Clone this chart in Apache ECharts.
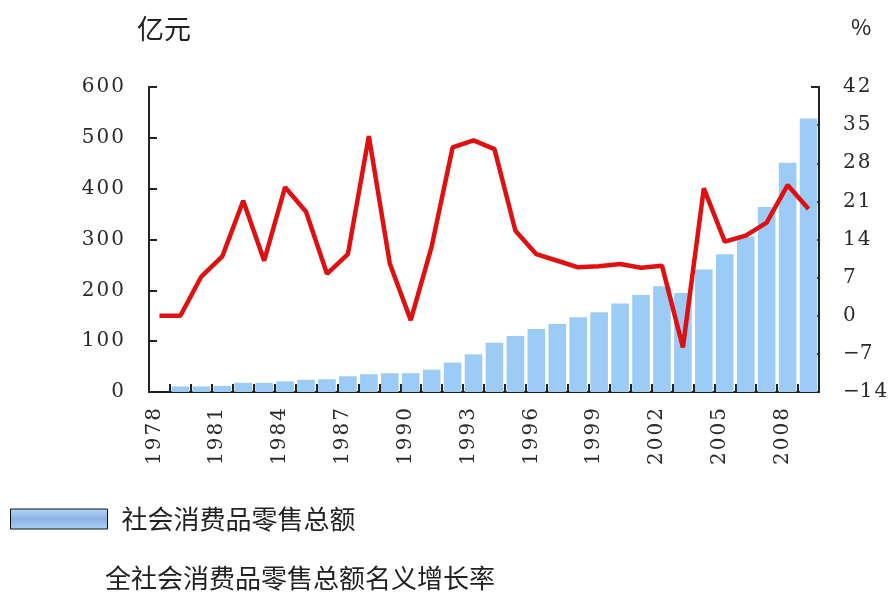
<!DOCTYPE html>
<html>
<head>
<meta charset="utf-8">
<script src="https://cdn.jsdelivr.net/npm/echarts@6/dist/echarts.min.js"></script>
<style>
  html, body { margin: 0; padding: 0; background: #fff; }
  #chart { width: 891px; height: 592px; }
</style>
</head>
<body>
<div id="chart"></div>
<script>
// categories
const years = ['1978', '1979', '1980', '1981', '1982', '1983', '1984', '1985',
  '1986', '1987', '1988', '1989', '1990', '1991', '1992', '1993',
  '1994', '1995', '1996', '1997', '1998', '1999', '2000', '2001',
  '2002', '2003', '2004', '2005', '2006', '2007', '2008', '2009']

// 社会消费品零售总额 (亿元, left axis) - 1978 has no bar in the picture
const retailTotal = [null, 11, 11, 12, 18, 18, 21, 24,
  25, 31, 35, 37, 37, 44, 58, 74,
  97, 110, 124, 134, 147, 157, 174, 191,
  208, 195, 241, 271, 306, 364, 451, 538]

// 名义增长率 (%, right axis)
const growthRate = [0, 0, 7.2, 10.9, 21.1, 10.1, 23.6, 19.1,
  7.7, 11.3, 33.0, 9.6, -0.8, 12.7, 30.9, 32.2,
  30.6, 15.6, 11.3, 10.1, 8.9, 9.1, 9.5, 8.8,
  9.2, -5.8, 23.4, 13.6, 14.7, 17.1, 24.0, 19.6]

const barName = '社会消费品零售总额'
const lineName = '全社会消费品零售总额名义增长率'

const cjk = '"Noto Sans CJK SC", "Noto Sans", sans-serif'
const serif = '"DejaVu Serif", "Liberation Serif", serif'

// wide-set digits like the original (hair spaces between digits)
function spaced(v) {
  const s = String(Math.abs(v)).split('').join('\u200A')
  return v < 0 ? '\u2212' + s : s
}

const tickLabel = { fontFamily: serif, fontSize: 20, color: '#2a2a2a' }

const chart = echarts.init(document.getElementById('chart'), null, { renderer: 'canvas' })

chart.setOption({
  backgroundColor: '#ffffff',
  animation: false,
  title: [
    { text: '亿元', left: 137, top: 15, padding: 0, textStyle: { fontFamily: cjk, fontSize: 27, fontWeight: 'normal', color: '#222' } },
    { text: '%', left: 851, top: 16, padding: 0, textStyle: { fontFamily: cjk, fontSize: 22, fontWeight: 'normal', color: '#222' } }
  ],
  grid: { left: 149, right: 72, top: 87, bottom: 200, containLabel: false },
  legend: [
    {
      data: [barName],
      left: 10, top: 506, padding: 0,
      icon: 'rect', itemWidth: 97, itemHeight: 20,
      itemStyle: {
        color: {
          type: 'linear', x: 0, y: 0, x2: 0, y2: 1,
          colorStops: [
            { offset: 0, color: '#b3d6f8' },
            { offset: 0.5, color: '#8db3e2' },
            { offset: 1, color: '#a9d0f7' }
          ]
        },
        borderColor: '#111', borderWidth: 1
      },
      textStyle: { fontFamily: cjk, fontSize: 26, color: '#222', padding: [0, 0, 0, 9] }
    },
    {
      data: [lineName],
      left: 100, top: 565, padding: 0,
      icon: 'none', itemWidth: 0, itemHeight: 20,
      textStyle: { fontFamily: cjk, fontSize: 26, color: '#222' }
    }
  ],
  xAxis: {
    type: 'category',
    data: years,
    boundaryGap: true,
    axisLine: { lineStyle: { color: '#222', width: 2 } },
    axisTick: { show: true, inside: true, length: 8, interval: 0, lineStyle: { color: '#222', width: 2 } },
    axisLabel: {
      interval: 2, rotate: 90, margin: 16,
      verticalAlign: 'bottom', lineHeight: 10,
      ...tickLabel,
      formatter: v => spaced(v)
    },
    splitLine: { show: false }
  },
  yAxis: [
    {
      type: 'value', min: 0, max: 600, interval: 100,
      axisLine: { show: true, lineStyle: { color: '#222', width: 2 } },
      axisTick: { show: true, inside: true, length: 8, lineStyle: { color: '#222', width: 2 } },
      axisLabel: { margin: 25, ...tickLabel, formatter: v => spaced(v) },
      splitLine: { show: false }
    },
    {
      type: 'value', min: -14, max: 42, interval: 7, position: 'right',
      axisLine: { show: true, lineStyle: { color: '#222', width: 2 } },
      axisTick: { show: true, inside: true, length: 8, lineStyle: { color: '#222', width: 2 } },
      axisLabel: { margin: 24, ...tickLabel, formatter: v => spaced(v) },
      splitLine: { show: false }
    }
  ],
  series: [
    {
      name: barName,
      type: 'bar',
      yAxisIndex: 0,
      data: retailTotal,
      barCategoryGap: '16%',
      itemStyle: { color: '#9ccbf6' }
    },
    {
      name: lineName,
      type: 'line',
      yAxisIndex: 1,
      data: growthRate,
      symbol: 'none',
      smooth: false,
      lineStyle: { color: '#e01010', width: 4.5 },
      itemStyle: { color: '#e01010' },
      z: 3
    }
  ]
})
</script>
</body>
</html>
